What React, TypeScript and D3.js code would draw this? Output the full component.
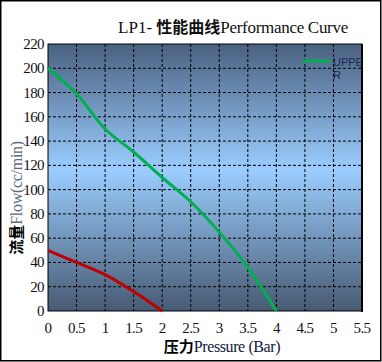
import React from "react";
import * as d3 from "d3";

const pressure = [0, 0.5, 1, 1.5, 2, 2.5, 3, 3.5, 4];
const upperFlow = [200, 179, 150, 131, 110, 90, 65, 36, 0];
const lowerPressure = [0, 0.5, 1, 1.5, 2];
const lowerFlow = [50, 40, 30, 16, 0];
const xTicks = [0, 0.5, 1, 1.5, 2, 2.5, 3, 3.5, 4, 4.5, 5, 5.5];
const yTicks = [0, 20, 40, 60, 80, 100, 120, 140, 160, 180, 200, 220];
const legendLabel = ["UPPE", "R"];

const W = 382;
const H = 362;
const L = 48;
const R = 362;
const T = 44;
const B = 311;

const serif = '"Liberation Serif", serif';
const cjk = '"Noto Sans CJK SC", sans-serif';
const sans = '"Liberation Sans", sans-serif';

export default function App() {
  const x = d3.scaleLinear().domain([0, 5.5]).range([L, R]);
  const y = d3.scaleLinear().domain([0, 220]).range([B, T]);
  const line = d3
    .line<[number, number]>()
    .x((d) => x(d[0]))
    .y((d) => y(d[1]))
    .curve(d3.curveCatmullRom.alpha(0.5));
  const upper = pressure.map((p, i) => [p, upperFlow[i]] as [number, number]);
  const lower = lowerPressure.map((p, i) => [p, lowerFlow[i]] as [number, number]);

  return (
    <svg
      width={W}
      height={H}
      style={{ position: "absolute", left: 0, top: 0 }}
    >
      <defs>
        <linearGradient id="bg" x1="0" y1="0" x2="0" y2="1">
          <stop offset="0" stopColor="#4a6180" />
          <stop offset="0.47" stopColor="#9bcdff" />
          <stop offset="1" stopColor="#475a73" />
        </linearGradient>
      </defs>
      <rect x={0} y={0} width={W} height={H} fill="#fff" />
      <rect x={0.75} y={0.75} width={W - 2} height={H - 2} fill="none" stroke="#000" strokeWidth={1.5} />
      <rect x={L} y={T} width={R - L} height={B - T} fill="url(#bg)" />
      {xTicks.slice(1, -1).map((t) => (
        <line key={"gx" + t} x1={x(t)} x2={x(t)} y1={T} y2={B} stroke="#000" strokeWidth={1} strokeDasharray="3,2" />
      ))}
      {yTicks.slice(1, -1).map((t) => (
        <line key={"gy" + t} x1={L} x2={R} y1={y(t)} y2={y(t)} stroke="#000" strokeWidth={1} strokeDasharray="3,2" />
      ))}
      <rect x={L} y={T} width={R - L} height={B - T} fill="none" stroke="#000" strokeWidth={1} />
      <line x1={R} x2={R} y1={T} y2={B + 1} stroke="#000" strokeWidth={2} />
      <path d={line(lower) || ""} fill="none" stroke="#c00000" strokeWidth={3} />
      <path d={line(upper) || ""} fill="none" stroke="#00b050" strokeWidth={3} />
      <line x1={302} x2={331} y1={61} y2={61} stroke="#00b050" strokeWidth={3} />
      {legendLabel.map((s, i) => (
        <text key={s} x={333} y={66 + i * 13} style={{ fontFamily: sans }} fontSize={11} fill="#1c2850">
          {s}
        </text>
      ))}
      {yTicks.map((t) => (
        <text key={"ty" + t} x={44} y={y(t) + 5} textAnchor="end" style={{ fontFamily: serif }} fontSize={15} fill="#111" letterSpacing={-0.6}>
          {t}
        </text>
      ))}
      {xTicks.map((t) => (
        <text key={"tx" + t} x={x(t)} y={333} textAnchor="middle" style={{ fontFamily: serif }} fontSize={15} fill="#111" letterSpacing={-0.6}>
          {t}
        </text>
      ))}
      <text x={233} y={33} textAnchor="middle" style={{ fontFamily: serif }} fontSize={17} fill="#111">
        LP1-{" "}
        <tspan style={{ fontFamily: cjk }} fontWeight="bold" fontSize={16}>性能曲线</tspan>
        <tspan letterSpacing={-0.3}>Performance Curve</tspan>
      </text>
      <text x={222} y={352} textAnchor="middle" style={{ fontFamily: serif }} fontSize={16} fill="#12163a">
        <tspan style={{ fontFamily: cjk }} fontWeight="bold" fill="#000" fontSize={15}>压力</tspan>
        <tspan letterSpacing={-0.4}>Pressure (Bar)</tspan>
      </text>
      <text
        transform={`translate(22,198) rotate(-90)`}
        textAnchor="middle"
        style={{ fontFamily: serif }}
        fontSize={16}
        fill="#5c6a80"
      >
        <tspan style={{ fontFamily: cjk }} fontWeight="bold" fill="#000" fontSize={15}>流量</tspan>
        <tspan letterSpacing={-0.3}>Flow(cc/min)</tspan>
      </text>
    </svg>
  );
}
